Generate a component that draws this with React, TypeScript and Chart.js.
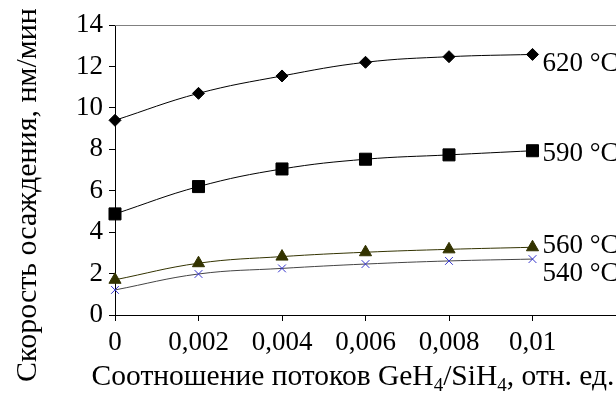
import React, { useEffect, useRef } from "react";
import { Chart, registerables } from "chart.js";

Chart.register(...registerables);

const ratios = [0, 0.002, 0.004, 0.006, 0.008, 0.01];
const xTicks = [0, 0.002, 0.004, 0.006, 0.008, 0.01];
const rate620 = [9.4, 10.7, 11.54, 12.2, 12.47, 12.58];
const rate590 = [4.88, 6.2, 7.05, 7.52, 7.73, 7.93];
const rate560 = [1.7, 2.5, 2.82, 3.03, 3.17, 3.27];
const rate540 = [1.21, 1.98, 2.25, 2.46, 2.61, 2.7];
const seriesLabels = ["620 °C", "590 °C", "560 °C", "540 °C"];
const yTitle = "Скорость осаждения, нм/мин";
const xTitleParts = [
  { t: "Соотношение потоков GeH", sub: false },
  { t: "4", sub: true },
  { t: "/SiH", sub: false },
  { t: "4", sub: true },
  { t: ", отн. ед.", sub: false },
];

const FONT = '"Liberation Serif", "Times New Roman", serif';
const FS = 27;
const YTFS = 30;
const XTFS = 29.5;
// label vertical offsets (px) relative to the last point
const labelDy = [9, 3.5, -1, 15];

export default function App() {
  const ref = useRef<HTMLCanvasElement>(null);
  useEffect(() => {
    if (!ref.current) return;
    const toXY = (arr: number[]) => arr.map((v, i) => ({ x: ratios[i], y: v }));
    const decor = {
      id: "decor",
      afterDatasetsDraw(chart: any) {
        const ctx = chart.ctx;
        const a = chart.chartArea;
        ctx.save();
        // top border
        ctx.strokeStyle = "#808080";
        ctx.lineWidth = 1;
        ctx.beginPath();
        ctx.moveTo(a.left, Math.round(a.top) + 0.5);
        ctx.lineTo(chart.width, Math.round(a.top) + 0.5);
        ctx.stroke();
        // series labels
        ctx.fillStyle = "#000";
        ctx.font = `${FS}px ${FONT}`;
        ctx.textAlign = "left";
        ctx.textBaseline = "middle";
        chart.data.datasets.forEach((ds: any, i: number) => {
          const meta = chart.getDatasetMeta(i);
          const last = meta.data[meta.data.length - 1];
          ctx.fillText(seriesLabels[i], last.x + 10, last.y + labelDy[i]);
        });
        // y title
        ctx.save();
        ctx.font = `${YTFS}px ${FONT}`;
        ctx.translate(36, 195);
        ctx.rotate(-Math.PI / 2);
        ctx.textAlign = "center";
        ctx.textBaseline = "alphabetic";
        ctx.fillText(yTitle, 0, 0);
        ctx.restore();
        // x title with subscripts
        const subFS = 19;
        let total = 0;
        xTitleParts.forEach((p) => {
          ctx.font = `${p.sub ? subFS : XTFS}px ${FONT}`;
          total += ctx.measureText(p.t).width;
        });
        let x = 353 - total / 2;
        const base = 385;
        ctx.textAlign = "left";
        ctx.textBaseline = "alphabetic";
        xTitleParts.forEach((p) => {
          ctx.font = `${p.sub ? subFS : XTFS}px ${FONT}`;
          ctx.fillText(p.t, x, p.sub ? base + 6 : base);
          x += ctx.measureText(p.t).width;
        });
        ctx.restore();
      },
    };
    const chart = new Chart(ref.current, {
      type: "line",
      data: {
        datasets: [
          {
            label: seriesLabels[0],
            data: toXY(rate620),
            borderColor: "#000",
            backgroundColor: "#000",
            borderWidth: 1,
            pointStyle: "rectRot",
            pointRadius: 6,
            tension: 0.4,
            clip: false as any,
          },
          {
            label: seriesLabels[1],
            data: toXY(rate590),
            borderColor: "#000",
            backgroundColor: "#000",
            borderWidth: 1,
            pointStyle: "rect",
            pointRadius: 8.5,
            tension: 0.4,
            clip: false as any,
          },
          {
            label: seriesLabels[2],
            data: toXY(rate560),
            borderColor: "#333300",
            backgroundColor: "#333300",
            borderWidth: 1,
            pointStyle: "triangle",
            pointRadius: 7,
            tension: 0.4,
            clip: false as any,
          },
          {
            label: seriesLabels[3],
            data: toXY(rate540),
            borderColor: "#444444",
            backgroundColor: "#3333cc",
            pointBorderColor: "#3333cc",
            pointBorderWidth: 1,
            borderWidth: 1,
            pointStyle: "crossRot",
            pointRadius: 5.5,
            tension: 0.4,
            clip: false as any,
          },
        ],
      },
      options: {
        animation: false,
        responsive: false,
        layout: { autoPadding: false, padding: { top: 25, right: 0, left: 0, bottom: 0 } },
        plugins: { legend: { display: false }, tooltip: { enabled: false } },
        scales: {
          x: {
            type: "linear",
            min: 0,
            max: 0.012,
            afterFit: (s: any) => {
              s.height = 79;
              s.paddingLeft = 0;
              s.paddingRight = 0;
            },
            afterBuildTicks: (s: any) => {
              s.ticks = xTicks.map((v) => ({ value: v }));
            },
            grid: {
              drawOnChartArea: false,
              drawTicks: true,
              tickLength: 6,
              color: "#000",
            },
            border: { color: "#000", width: 1 },
            ticks: {
              color: "#000",
              font: { family: FONT, size: FS },
              padding: 6,
              maxRotation: 0,
              autoSkip: false,
              callback: (v: any) => String(parseFloat(Number(v).toFixed(3))).replace(".", ","),
            },
          },
          y: {
            min: 0,
            max: 14,
            afterFit: (s: any) => {
              s.width = 115;
              s.paddingTop = 0;
              s.paddingBottom = 0;
            },
            grid: {
              drawOnChartArea: false,
              drawTicks: true,
              tickLength: 6,
              color: "#000",
            },
            border: { color: "#000", width: 1 },
            ticks: {
              stepSize: 2,
              color: "#000",
              font: { family: FONT, size: FS },
              padding: 6,
            },
          },
        },
      },
      plugins: [decor],
    });
    return () => chart.destroy();
  }, []);
  return (
    <div style={{ position: "fixed", left: 0, top: 0, width: 616, height: 394, background: "#fff" }}>
      <canvas ref={ref} width={616} height={394} style={{ display: "block" }} />
    </div>
  );
}
